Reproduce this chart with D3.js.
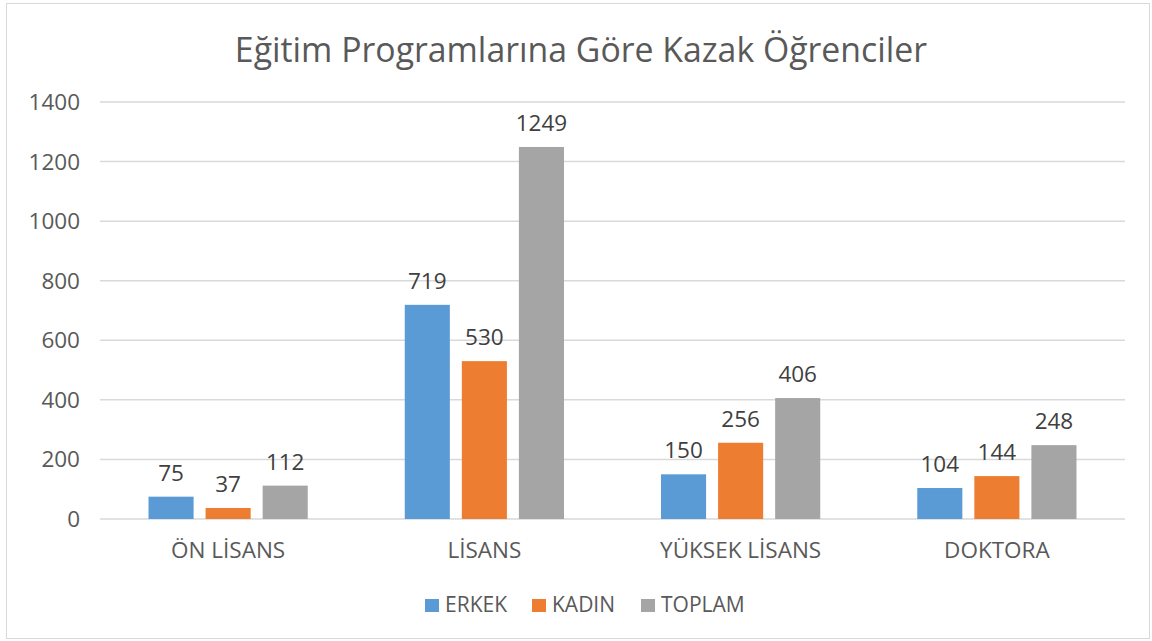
<!DOCTYPE html>
<html>
<head>
<meta charset="utf-8">
<script src="https://cdn.jsdelivr.net/npm/d3@7"></script>
<style>
  body { margin: 0; background: #fff; }
  text { font-family: "Open Sans", Lato, sans-serif; }
</style>
</head>
<body>
<div id="chart"></div>
<script>
const categories = ["ÖN LİSANS", "LİSANS", "YÜKSEK LİSANS", "DOKTORA"];
const seriesNames = ["ERKEK", "KADIN", "TOPLAM"];
const erkek = [75, 719, 150, 104];
const kadin = [37, 530, 256, 144];
const toplam = [112, 1249, 406, 248];
const yTicks = [0, 200, 400, 600, 800, 1000, 1200, 1400];
const colors = ["#5B9BD5", "#ED7D31", "#A5A5A5"];

const W = 1152, H = 641;
const margin = { left: 100, right: 27, top: 102, bottom: 122 };

const svg = d3.select("#chart").append("svg")
  .attr("width", W)
  .attr("height", H);

// outer chart border
svg.append("rect")
  .attr("x", 6.5).attr("y", 3.5)
  .attr("width", W - 9).attr("height", H - 6)
  .attr("fill", "#fff")
  .attr("stroke", "#D9D9D9");

svg.append("text")
  .attr("x", 581).attr("y", 62)
  .attr("text-anchor", "middle")
  .attr("font-size", 33.8)
  .attr("fill", "#595959")
  .text("Eğitim Programlarına Göre Kazak Öğrenciler");

const x = d3.scaleBand()
  .domain(categories)
  .range([margin.left, W - margin.right]);

const xInner = d3.scaleBand()
  .domain(seriesNames)
  .range([0, x.bandwidth()])
  .paddingInner(0.21)
  .paddingOuter(0.85);

const y = d3.scaleLinear()
  .domain([0, 1400])
  .range([H - margin.bottom, margin.top]);

// gridlines
svg.append("g")
  .selectAll("line")
  .data(yTicks)
  .join("line")
  .attr("x1", margin.left).attr("x2", W - margin.right)
  .attr("y1", d => y(d)).attr("y2", d => y(d))
  .attr("stroke", "#D9D9D9")
  .attr("stroke-width", 1.5);

// y labels
svg.append("g")
  .selectAll("text")
  .data(yTicks)
  .join("text")
  .attr("x", 80)
  .attr("y", d => y(d) + 8)
  .attr("text-anchor", "end")
  .attr("font-size", 22.5)
  .attr("fill", "#595959")
  .text(d => d);

// x category labels
svg.append("g")
  .selectAll("text")
  .data(categories)
  .join("text")
  .attr("x", d => x(d) + x.bandwidth() / 2)
  .attr("y", 558)
  .attr("text-anchor", "middle")
  .attr("font-size", 22.5)
  .attr("fill", "#595959")
  .text(d => d);

const rows = categories.map((c, i) => ({
  cat: c,
  vals: [erkek[i], kadin[i], toplam[i]].map((v, j) => ({ s: seriesNames[j], v: v, c: colors[j] }))
}));

const groups = svg.append("g")
  .selectAll("g")
  .data(rows)
  .join("g")
  .attr("transform", d => `translate(${x(d.cat)},0)`);

groups.selectAll("rect")
  .data(d => d.vals)
  .join("rect")
  .attr("x", d => xInner(d.s))
  .attr("y", d => y(d.v))
  .attr("width", xInner.bandwidth())
  .attr("height", d => y(0) - y(d.v))
  .attr("fill", d => d.c);

groups.selectAll("text")
  .data(d => d.vals)
  .join("text")
  .attr("x", d => xInner(d.s) + xInner.bandwidth() / 2)
  .attr("y", d => y(d.v) - 16)
  .attr("text-anchor", "middle")
  .attr("font-size", 22.5)
  .attr("fill", "#404040")
  .text(d => d.v);

// legend
const legendX = [425, 532, 641];
const legend = svg.append("g")
  .selectAll("g")
  .data(seriesNames)
  .join("g")
  .attr("transform", (d, i) => `translate(${legendX[i]},599)`);

legend.append("rect")
  .attr("width", 14).attr("height", 13)
  .attr("fill", (d, i) => colors[i]);

legend.append("text")
  .attr("x", 20).attr("y", 13)
  .attr("font-size", 21)
  .attr("fill", "#595959")
  .text(d => d);
</script>
</body>
</html>
